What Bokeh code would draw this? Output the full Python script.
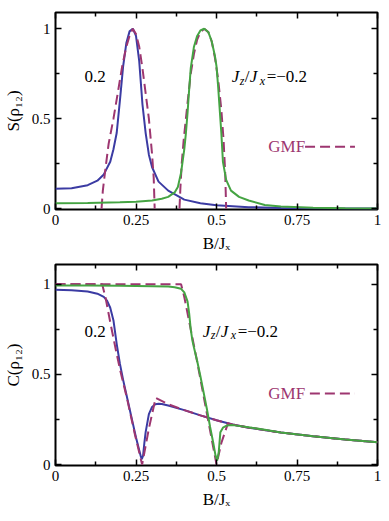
from bokeh.plotting import figure
from bokeh.layouts import column
from bokeh.models import FixedTicker, LinearAxis, Range1d, ColumnDataSource
from bokeh.core.properties import value
from bokeh.embed import file_html
from bokeh.resources import INLINE

# ---------------- data ----------------
x_ticks = [0, 0.25, 0.5, 0.75, 1]
x_tick_labels = ["0", "0.25", "0.5", "0.75", "1"]
x_minor_ticks = [0.125, 0.375, 0.625, 0.875]
y_ticks = [0, 0.5, 1]
y_tick_labels = ["0", "0.5", "1"]
y_minor_ticks = [0.25, 0.75]

# Top panel: S(rho12)
s_pos_x = [0, 0.05, 0.1, 0.13, 0.15, 0.17, 0.18, 0.19, 0.2, 0.21, 0.22, 0.23, 0.24, 0.25,
           0.26, 0.27, 0.28, 0.29, 0.3, 0.32, 0.35, 0.4, 0.45, 0.5, 0.6, 0.7, 0.8, 0.9, 1.0]
s_pos_y = [0.11, 0.113, 0.13, 0.155, 0.19, 0.26, 0.33, 0.42, 0.6, 0.79, 0.92, 0.985, 1.0, 0.96,
           0.82, 0.58, 0.42, 0.3, 0.23, 0.15, 0.1, 0.05, 0.03, 0.018, 0.008, 0.004, 0.002, 0.001, 0.001]
s_pos_gmf_x = [0.143, 0.147, 0.155, 0.165, 0.18, 0.195, 0.207, 0.22, 0.23, 0.24, 0.25, 0.26,
               0.27, 0.28, 0.29, 0.3, 0.305, 0.308]
s_pos_gmf_y = [0, 0.1, 0.22, 0.36, 0.5, 0.66, 0.79, 0.9, 0.96, 1.0, 0.97, 0.9,
               0.78, 0.64, 0.5, 0.3, 0.17, 0]
s_neg_x = [0, 0.1, 0.2, 0.25, 0.3, 0.33, 0.35, 0.37, 0.38, 0.39, 0.4, 0.405, 0.41, 0.415, 0.42,
           0.43, 0.44, 0.45, 0.462, 0.475, 0.485, 0.495, 0.5, 0.505, 0.51, 0.515, 0.52, 0.53,
           0.545, 0.57, 0.6, 0.65, 0.7, 0.8, 0.9, 1.0]
s_neg_y = [0.03, 0.031, 0.035, 0.038, 0.045, 0.055, 0.065, 0.09, 0.12, 0.2, 0.33, 0.42, 0.53, 0.66,
           0.78, 0.9, 0.96, 0.99, 1.0, 0.98, 0.93, 0.85, 0.79, 0.68, 0.55, 0.42, 0.26, 0.16,
           0.1, 0.065, 0.045, 0.02, 0.012, 0.005, 0.002, 0.001]
s_neg_gmf_x = [0.385, 0.388, 0.392, 0.398, 0.405, 0.412, 0.42, 0.43, 0.44, 0.45, 0.462, 0.475,
               0.485, 0.495, 0.505, 0.515, 0.522, 0.527, 0.53]
s_neg_gmf_y = [0, 0.12, 0.25, 0.38, 0.5, 0.62, 0.75, 0.86, 0.94, 0.98, 1.0, 0.98,
               0.93, 0.84, 0.72, 0.55, 0.38, 0.2, 0]

# Bottom panel: C(rho12)
c_pos_x = [0, 0.05, 0.1, 0.13, 0.15, 0.16, 0.17, 0.18, 0.19, 0.2, 0.21, 0.22, 0.23, 0.24, 0.25,
           0.26, 0.265, 0.268, 0.272, 0.276, 0.28, 0.29, 0.3, 0.31, 0.32, 0.33, 0.35, 0.4, 0.45,
           0.5, 0.55, 0.6, 0.7, 0.8, 0.9, 1.0]
c_pos_y = [0.97, 0.967, 0.96, 0.948, 0.93, 0.91, 0.87, 0.8, 0.67, 0.56, 0.47, 0.39, 0.31, 0.23, 0.15,
           0.08, 0.045, 0.03, 0.05, 0.12, 0.18, 0.28, 0.32, 0.335, 0.338, 0.336, 0.328, 0.302, 0.273,
           0.246, 0.222, 0.205, 0.178, 0.157, 0.139, 0.124]
c_pos_gmf_x = [0, 0.145, 0.155, 0.17, 0.187, 0.2, 0.223, 0.245, 0.269, 0.29, 0.311, 0.35, 0.4,
               0.45, 0.5, 0.55, 0.6, 0.7, 0.8, 0.9, 1.0]
c_pos_gmf_y = [1.0, 1.0, 0.93, 0.79, 0.64, 0.53, 0.36, 0.18, 0, 0.2, 0.37, 0.335, 0.302,
               0.273, 0.246, 0.222, 0.205, 0.178, 0.157, 0.139, 0.124]
c_neg_x = [0, 0.1, 0.2, 0.3, 0.35, 0.37, 0.39, 0.4, 0.41, 0.415, 0.42, 0.425, 0.43, 0.44, 0.45,
           0.46, 0.47, 0.48, 0.49, 0.497, 0.502, 0.507, 0.512, 0.52, 0.533, 0.55, 0.6, 0.65, 0.7,
           0.8, 0.9, 1.0]
c_neg_y = [0.993, 0.993, 0.992, 0.99, 0.988, 0.984, 0.975, 0.955, 0.905, 0.84, 0.75, 0.69, 0.65,
           0.575, 0.49, 0.4, 0.31, 0.21, 0.12, 0.05, 0.022, 0.07, 0.18, 0.205, 0.217, 0.219, 0.207,
           0.193, 0.178, 0.157, 0.139, 0.124]
c_neg_gmf_x = [0, 0.39, 0.4, 0.42, 0.44, 0.46, 0.48, 0.5, 0.515, 0.535, 0.55, 0.6, 0.7, 0.8, 0.9, 1.0]
c_neg_gmf_y = [1.0, 1.0, 0.93, 0.75, 0.57, 0.38, 0.19, 0, 0.12, 0.226, 0.222, 0.206, 0.178,
               0.157, 0.139, 0.124]

# annotation anchors (data coordinates)
top_label_02 = (0.123, 0.733)
top_label_jz = (0.547, 0.733)
top_gmf_text = (0.661, 0.344)
top_gmf_line_x = [0.775, 0.93]
bot_label_02 = (0.123, 0.739)
bot_label_jz = (0.457, 0.739)
bot_gmf_text = (0.661, 0.394)
bot_gmf_line_x = [0.79, 0.93]

# ---------------- styling ----------------
FONT = "Liberation Serif"
BLUE = "#3b3ba3"
GREEN = "#45a443"
PURPLE = "#9d3670"
LW = 2


def style_axes(p):
    p.grid.visible = False
    p.outline_line_color = "black"
    p.outline_line_width = 2
    bottom = p.below[0]
    left = p.left[0]
    bottom.ticker = FixedTicker(ticks=x_ticks, minor_ticks=x_minor_ticks)
    bottom.major_label_overrides = dict(zip(x_ticks, x_tick_labels))
    left.ticker = FixedTicker(ticks=y_ticks, minor_ticks=y_minor_ticks)
    left.major_label_overrides = dict(zip(y_ticks, y_tick_labels))
    top = LinearAxis(ticker=FixedTicker(ticks=x_ticks, minor_ticks=x_minor_ticks),
                     major_label_overrides={t: "" for t in x_ticks})
    right = LinearAxis(ticker=FixedTicker(ticks=y_ticks, minor_ticks=y_minor_ticks),
                       major_label_overrides={t: "" for t in y_ticks})
    p.add_layout(top, "above")
    p.add_layout(right, "right")
    for ax in [bottom, left, top, right]:
        ax.axis_line_color = None
        ax.major_tick_in = 6
        ax.major_tick_out = 0
        ax.minor_tick_in = 4
        ax.minor_tick_out = 0
        ax.major_tick_line_width = 1.5
        ax.minor_tick_line_width = 1.5
        ax.major_tick_line_color = "black"
        ax.minor_tick_line_color = "black"
        ax.major_label_text_font = FONT
        ax.major_label_text_font_size = "15px"
        ax.major_label_text_color = "black"
        ax.axis_label_text_font = FONT
        ax.axis_label_text_font_size = "17px"
        ax.axis_label_text_font_style = "normal"
        ax.axis_label_text_color = "black"
    for ax in [top, right]:
        ax.major_label_standoff = 0
        ax.major_label_text_font_size = "1px"
    bottom.major_label_standoff = 5
    bottom.axis_label_standoff = 6
    left.major_label_standoff = 5
    left.axis_label_standoff = 6


def add_labels(p, lab02, labjz, gmf_text, gmf_line_x):
    p.text(x=[lab02[0]], y=[lab02[1]], text=["0.2"], text_font=value(FONT),
           text_font_size="17px", text_align="center", text_baseline="middle", text_color="black")
    parts = ["J", "z", "/", "J", "x", "=−0.2"]
    dx = [0, 8, 13, 18, 28, 35]
    dy = [0, 4, 0, 0, 4, 0]
    sizes = ["17px", "12px", "17px", "17px", "12px", "17px"]
    styles = ["italic", "italic", "normal", "italic", "italic", "normal"]
    src = ColumnDataSource(dict(x=[labjz[0]] * 6, y=[labjz[1]] * 6, text=parts, dx=dx, dy=dy,
                                size=sizes, style=styles))
    p.text(x="x", y="y", text="text", x_offset="dx", y_offset="dy",
           text_font_size=dict(field="size"), text_font_style=dict(field="style"),
           text_font=value(FONT), text_align="left", text_baseline="middle",
           text_color="black", source=src)
    p.text(x=[gmf_text[0]], y=[gmf_text[1]], text=["GMF"], text_font=value(FONT),
           text_font_size="17px", text_align="left", text_baseline="middle", text_color=PURPLE)
    p.line(x=gmf_line_x, y=[gmf_text[1]] * 2, line_color=PURPLE, line_width=LW,
           line_dash="10 5")


def make_fig(frame_h, y_end, border_top, border_bottom, ylabel):
    p = figure(frame_width=322, frame_height=frame_h,
               x_range=Range1d(0, 1), y_range=Range1d(-0.005, y_end),
               output_backend="svg", toolbar_location=None,
               min_border_left=55, min_border_right=4, min_border_top=border_top,
               min_border_bottom=border_bottom, x_axis_label="B/Jₓ", y_axis_label=ylabel)
    p.background_fill_color = "white"
    p.border_fill_color = "white"
    style_axes(p)
    return p


p1 = make_fig(197, 1.09, 12, 49, "S(ρ₁₂)")
p1.line(s_pos_x, s_pos_y, line_color=BLUE, line_width=LW)
p1.line(s_pos_gmf_x, s_pos_gmf_y, line_color=PURPLE, line_width=LW, line_dash="10 5")
p1.line(s_neg_gmf_x, s_neg_gmf_y, line_color=PURPLE, line_width=LW, line_dash="10 5")
p1.line(s_neg_x, s_neg_y, line_color=GREEN, line_width=LW)
add_labels(p1, top_label_02, top_label_jz, top_gmf_text, top_gmf_line_x)

p2 = make_fig(201, 1.11, 6, 49, "C(ρ₁₂)")
p2.line(c_pos_x, c_pos_y, line_color=BLUE, line_width=LW)
p2.line(c_pos_gmf_x, c_pos_gmf_y, line_color=PURPLE, line_width=LW, line_dash="10 5")
p2.line(c_neg_gmf_x, c_neg_gmf_y, line_color=PURPLE, line_width=LW, line_dash="10 5")
p2.line(c_neg_x, c_neg_y, line_color=GREEN, line_width=LW)
add_labels(p2, bot_label_02, bot_label_jz, bot_gmf_text, bot_gmf_line_x)

layout = column(p1, p2, spacing=0)
open("out.html", "w").write(file_html(layout, INLINE))
